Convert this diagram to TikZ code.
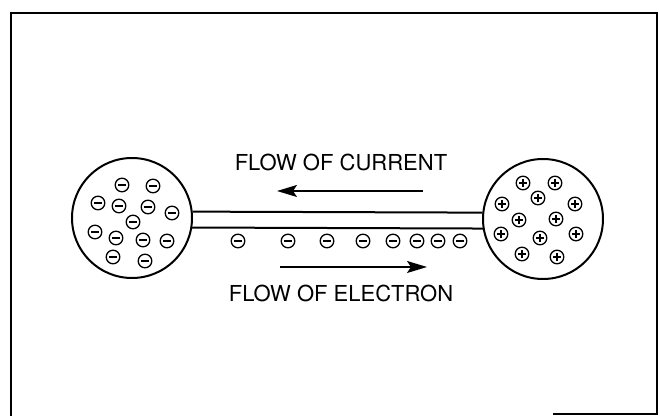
\documentclass[tikz,border=0pt]{standalone}
\usepackage{fontspec}
\setmainfont{TeX Gyre Heros}
\usetikzlibrary{arrows.meta}
\tikzset{
  frm/.style={line width=1pt},
  sph/.style={circle, draw, line width=1pt, minimum size=60pt, inner sep=0pt},
  wire/.style={line width=1pt},
  chg/.style={circle, draw, line width=0.65pt, minimum size=6.8pt, inner sep=0pt},
  ele/.style={chg, path picture={
      \draw[line width=0.65pt] ([xshift=-2pt]path picture bounding box.center) -- ([xshift=2pt]path picture bounding box.center);}},
  ion/.style={chg, path picture={
      \draw[line width=0.65pt] ([xshift=-2pt]path picture bounding box.center) -- ([xshift=2pt]path picture bounding box.center);
      \draw[line width=0.65pt] ([yshift=-2pt]path picture bounding box.center) -- ([yshift=2pt]path picture bounding box.center);}},
  flow/.style={-{Stealth[length=10pt, width=6pt, inset=2pt]}, line width=0.8pt},
  lab/.style={font=\fontsize{11}{13}\selectfont, inner sep=1pt}
}

\begin{document}
\begin{tikzpicture}[x=0.5pt, y=-0.5pt]
	\useasboundingbox (0,0) rectangle (660,416);
	% frame
	\draw[frm] (11,416) -- (11,13) -- (657,13) -- (657,414) -- (553,414);
	% the two spheres and the wire between them
	\node[sph] (neg) at (132,218) {};
	\node[sph] (pos) at (543,219) {};
	\draw[wire] (neg.6) -- (pos.174);
	\draw[wire] (neg.-9) -- (pos.-171);
	% charges
	\foreach \x/\y [count=\i] in {122/185, 153/186, 98/203, 119/206, 148/207, 172/213, 133/222,
	                              95/232, 116/238, 143/240, 167/241, 113/257, 145/261}
		\node[ele] (n\i) at (\x,\y) {};
	\foreach \x/\y [count=\i] in {523/183, 555/183, 538/198, 502/204, 575/204, 519/220, 556/219,
	                              501/234, 540/238, 576/234, 522/254, 557/257}
		\node[ion] (p\i) at (\x,\y) {};
	\foreach \x [count=\i] in {238, 288, 327, 363, 393, 417, 438, 460}
		\node[ele] (w\i) at (\x,241) {};
	% labels and arrows
	\node[lab] (curlab) at (341,162) {FLOW OF CURRENT};
	\node[lab] (elelab) at (341,293) {FLOW OF ELECTRON};
	\coordinate (cur-s) at (423,191);
	\coordinate (cur-e) at (277,191);
	\coordinate (ele-s) at (280,267);
	\coordinate (ele-e) at (427,267);
	\draw[flow] (cur-s) -- (cur-e);
	\draw[flow] (ele-s) -- (ele-e);
\end{tikzpicture}
\end{document}
